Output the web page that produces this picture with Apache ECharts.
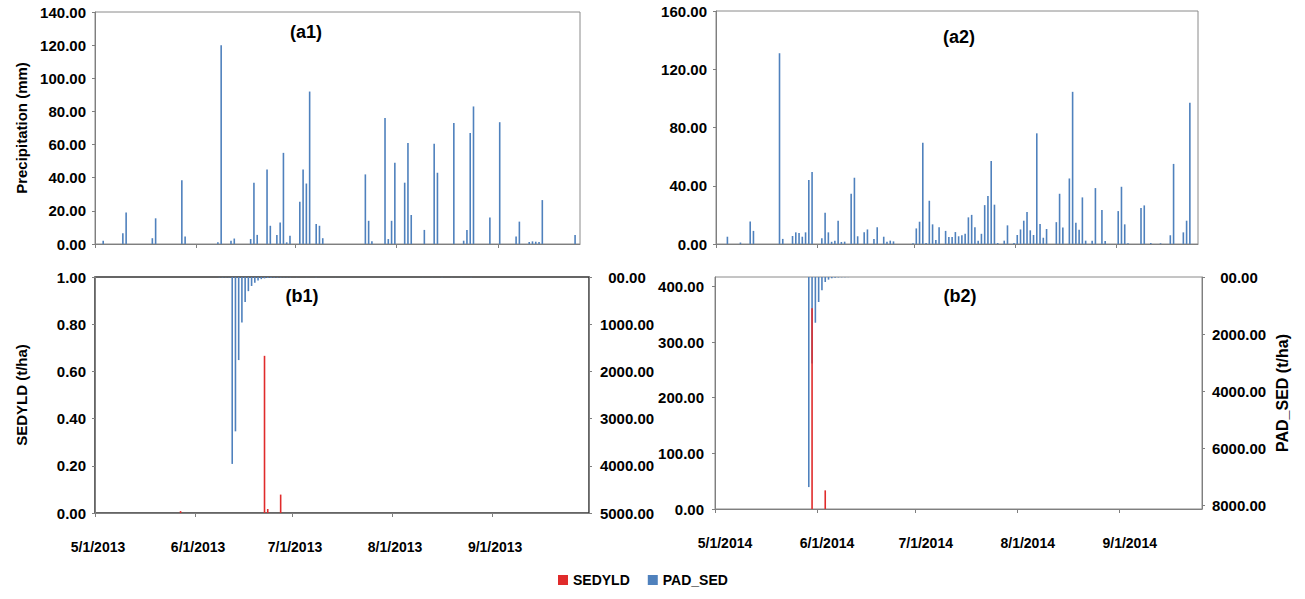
<!DOCTYPE html>
<html>
<head>
<meta charset="utf-8">
<title>Precipitation, SEDYLD and PAD_SED</title>
<script src="https://cdn.jsdelivr.net/npm/echarts@6/dist/echarts.min.js"></script>
<style>
  html, body { margin: 0; padding: 0; background: #fff; }
  #chart { width: 1305px; height: 599px; }
</style>
</head>
<body>
<div id="chart"></div>
<script>
// daily precipitation (mm), 2013
const rain2013Dates = ['2013-05-03', '2013-05-09', '2013-05-10', '2013-05-18', '2013-05-19', '2013-05-27', '2013-05-28',
  '2013-06-07', '2013-06-08', '2013-06-11', '2013-06-12', '2013-06-17', '2013-06-18', '2013-06-19', '2013-06-22',
  '2013-06-23', '2013-06-25', '2013-06-26', '2013-06-27', '2013-06-28', '2013-06-29',
  '2013-07-02', '2013-07-03', '2013-07-04', '2013-07-05', '2013-07-07', '2013-07-08', '2013-07-09', '2013-07-22',
  '2013-07-23', '2013-07-24', '2013-07-28', '2013-07-29', '2013-07-30', '2013-07-31',
  '2013-08-03', '2013-08-04', '2013-08-05', '2013-08-09', '2013-08-12', '2013-08-13', '2013-08-18', '2013-08-21',
  '2013-08-22', '2013-08-23', '2013-08-24', '2013-08-29',
  '2013-09-01', '2013-09-06', '2013-09-07', '2013-09-10', '2013-09-11', '2013-09-12', '2013-09-13', '2013-09-14', '2013-09-24']
const rain2013Values = [2, 6.5, 19, 3.5, 15.5, 38.5, 4.5,
  1, 120, 2, 3.3, 3, 37, 5.5, 45, 11, 5.5, 13, 55, 1, 5,
  25.5, 45, 36.5, 92, 12, 11, 3.5, 42, 14, 1.6, 76, 3, 14, 49,
  37, 61, 17.5, 8.5, 60.5, 43, 73, 2, 8.5, 67, 83, 16,
  73.5, 4.5, 13.5, 1.2, 1.6, 1.4, 1.2, 26.5, 5.5]

// daily precipitation (mm), 2014
const rain2014Dates = ['2014-05-04', '2014-05-08', '2014-05-11', '2014-05-12', '2014-05-20', '2014-05-21', '2014-05-24',
  '2014-05-25', '2014-05-26', '2014-05-27', '2014-05-28', '2014-05-29', '2014-05-30',
  '2014-06-02', '2014-06-03', '2014-06-04', '2014-06-05', '2014-06-06', '2014-06-07', '2014-06-08', '2014-06-09',
  '2014-06-11', '2014-06-12', '2014-06-13', '2014-06-15', '2014-06-16', '2014-06-18', '2014-06-19', '2014-06-21',
  '2014-06-22', '2014-06-23', '2014-06-24', '2014-06-30',
  '2014-07-01', '2014-07-02', '2014-07-03', '2014-07-04', '2014-07-05', '2014-07-06', '2014-07-07', '2014-07-08',
  '2014-07-10', '2014-07-11', '2014-07-12', '2014-07-13', '2014-07-14', '2014-07-15', '2014-07-16', '2014-07-17',
  '2014-07-18', '2014-07-19', '2014-07-20', '2014-07-21', '2014-07-22', '2014-07-23', '2014-07-24', '2014-07-25',
  '2014-07-26', '2014-07-28', '2014-07-29', '2014-07-31',
  '2014-08-01', '2014-08-02', '2014-08-03', '2014-08-04', '2014-08-05', '2014-08-06', '2014-08-07', '2014-08-08',
  '2014-08-09', '2014-08-10', '2014-08-13', '2014-08-14', '2014-08-15', '2014-08-17', '2014-08-18', '2014-08-19',
  '2014-08-20', '2014-08-21', '2014-08-22', '2014-08-24', '2014-08-25', '2014-08-27', '2014-08-28',
  '2014-09-01', '2014-09-02', '2014-09-03', '2014-09-04', '2014-09-08', '2014-09-09', '2014-09-11', '2014-09-14',
  '2014-09-17', '2014-09-18', '2014-09-21', '2014-09-22', '2014-09-23']
const rain2014Values = [5, 1, 15.5, 9, 131, 3.5, 5.5, 8, 7.5, 5, 8, 44, 49.5,
  4, 21.5, 8, 1.5, 2.3, 16, 1.4, 1.6, 34.5, 45.5, 5.3, 8, 10, 3.5, 11.5, 5, 1.5, 2.3, 1.8, 0.5,
  10.7, 15.3, 69.5, 0.7, 29.7, 13.5, 2.7, 11.5, 9, 4.8, 4.8, 8.2, 5.3, 6, 7, 18.3, 20, 11.5, 2.3, 7,
  26.7, 33, 57, 27, 0.7, 2.3, 12.8, 0.7,
  6.2, 10, 16, 22, 9.4, 6.2, 76, 13.7, 4.3, 10.3, 15, 34.5, 11.4, 45, 104.5, 14.6, 9.8, 32, 2.3, 2.3,
  38.4, 23.3, 2,
  22.6, 39.3, 13.5, 0.5, 24.7, 26.5, 0.7, 0.5, 6, 55, 8, 16, 97]

// SEDYLD (t/ha) and PAD_SED (t/ha), 2013
const sedyld2013Dates = ['2013-05-27', '2013-06-22', '2013-06-23', '2013-06-27']
const sedyld2013Values = [0.008, 0.666, 0.017, 0.078]
const padSed2013Dates = ['2013-06-08', '2013-06-09', '2013-06-10', '2013-06-11', '2013-06-12', '2013-06-13',
  '2013-06-14', '2013-06-15', '2013-06-16', '2013-06-17', '2013-06-18', '2013-06-19', '2013-06-20', '2013-06-21',
  '2013-06-22', '2013-06-23', '2013-06-24', '2013-06-25', '2013-06-26', '2013-06-27', '2013-06-28', '2013-06-29',
  '2013-06-30', '2013-07-02', '2013-07-05', '2013-07-08', '2013-07-11', '2013-07-14',
  '2013-08-10', '2013-08-13', '2013-08-16', '2013-08-19', '2013-08-22', '2013-08-25']
const padSed2013Values = [5, 8, 6, 5, 3960, 3270, 1760, 966, 530, 300, 190, 120, 75, 45,
  30, 20, 15, 12, 10, 8, 7, 6, 5, 4, 3, 3, 2, 2,
  3, 3, 3, 3, 3, 3]

// SEDYLD (t/ha) and PAD_SED (t/ha), 2014
const sedyld2014Dates = ['2014-05-30', '2014-06-03']
const sedyld2014Values = [361, 33.5]
const padSed2014Dates = ['2014-05-29', '2014-05-30', '2014-05-31', '2014-06-01', '2014-06-02', '2014-06-03',
  '2014-06-04', '2014-06-05', '2014-06-06', '2014-06-07', '2014-06-08', '2014-06-09', '2014-06-10']
const padSed2014Values = [7350, 3030, 1600, 875, 466, 175, 93, 47, 25, 15, 10, 6, 4]

// month ticks on the date axes
const monthTicks2013 = ['2013-05-01', '2013-06-01', '2013-07-01', '2013-08-01', '2013-09-01']
const monthTicks2014 = ['2014-05-01', '2014-06-01', '2014-07-01', '2014-08-01', '2014-09-01']

const FONT = '"Liberation Sans", Arial, sans-serif'
const BLUE = '#4f81bd'
const RED = '#e02b2b'

function day(s) {
  const p = s.split('-').map(Number)
  return new Date(p[0], p[1] - 1, p[2]).getTime()
}
// Excel draws each daily column in the middle of its day
function pairs(dates, values) {
  return dates.map((d, i) => [day(d) + 12 * 3600 * 1000, values[i]])
}
function mdY(v) {
  const d = new Date(v)
  return (d.getMonth() + 1) + '/' + d.getDate() + '/' + d.getFullYear()
}
function fixed2(v) {
  return v.toFixed(2)
}
function pad2(v) {
  const s = v.toFixed(2)
  return v < 10 ? '0' + s : s
}

// dates are kept as timestamps on a plain value axis so the month ticks can be placed exactly
function dateAxis(grid, from, to, ticks, showLabels, labelPad) {
  return {
    type: 'value',
    gridIndex: grid,
    min: day(from),
    max: day(to),
    splitLine: { show: false },
    axisLine: { lineStyle: { color: '#7f7f7f', width: 1 } },
    axisTick: {
      show: true,
      length: 4,
      lineStyle: { color: '#7f7f7f' },
      customValues: ticks.map(day)
    },
    axisLabel: {
      show: showLabels,
      customValues: ticks.map(day),
      formatter: mdY,
      margin: 27,
      padding: [0, 0, 0, labelPad || 0],
      color: '#000',
      fontFamily: FONT,
      fontWeight: 'bold',
      fontSize: 14
    }
  }
}

function valueAxis(grid, min, max, interval, fmt, extra) {
  return Object.assign({
    type: 'value',
    gridIndex: grid,
    min: min,
    max: max,
    interval: interval,
    splitLine: { show: false },
    axisLine: { show: true, lineStyle: { color: '#7f7f7f' } },
    axisTick: { show: true, length: 3, lineStyle: { color: '#7f7f7f' } },
    axisLabel: {
      formatter: fmt,
      margin: 9,
      color: '#000',
      fontFamily: FONT,
      fontWeight: 'bold',
      fontSize: 15
    },
    nameTextStyle: { color: '#000', fontFamily: FONT, fontWeight: 'bold', fontSize: 15 }
  }, extra)
}

const chart = echarts.init(document.getElementById('chart'), null, { renderer: 'svg' })

chart.setOption({
  backgroundColor: '#fff',
  animation: false,
  legend: {
    data: ['SEDYLD', 'PAD_SED'],
    left: 553,
    top: 568,
    icon: 'rect',
    itemWidth: 10,
    itemHeight: 10,
    itemGap: 18,
    textStyle: { color: '#000', fontFamily: FONT, fontWeight: 'bold', fontSize: 14 }
  },
  grid: [
    { left: 95, top: 12, width: 485, height: 232, show: true, borderColor: '#8a8a8a', borderWidth: 1 },
    { left: 716, top: 11, width: 482, height: 233, show: true, borderColor: '#8a8a8a', borderWidth: 1 },
    { left: 95, top: 277, width: 494, height: 236, show: true, borderColor: '#333', borderWidth: 1.5 },
    { left: 715, top: 277, width: 487, height: 232, show: true, borderColor: '#8a8a8a', borderWidth: 1 }
  ],
  xAxis: [
    dateAxis(0, '2013-05-01', '2013-09-26', monthTicks2013, false),
    dateAxis(1, '2014-05-01', '2014-09-26', monthTicks2014, false),
    dateAxis(2, '2013-05-01', '2013-10-01', monthTicks2013, true, 6),
    dateAxis(3, '2014-05-01', '2014-09-26', monthTicks2014, true, 20)
  ],
  yAxis: [
    valueAxis(0, 0, 140, 20, fixed2, {
      name: 'Precipitation (mm)', nameLocation: 'middle', nameGap: 66, nameRotate: 90
    }),
    valueAxis(1, 0, 160, 40, fixed2, {}),
    valueAxis(2, 0, 1, 0.2, fixed2, {
      name: 'SEDYLD (t/ha)', nameLocation: 'middle', nameGap: 66, nameRotate: 90
    }),
    valueAxis(2, 0, 5000, 1000, pad2, {
      position: 'right', inverse: true,
      axisLabel: { formatter: pad2, margin: 38, align: 'center', color: '#000', fontFamily: FONT, fontWeight: 'bold', fontSize: 15 }
    }),
    valueAxis(3, 0, 417, 100, fixed2, {
      axisLabel: { formatter: fixed2, margin: 11, showMaxLabel: false, color: '#000', fontFamily: FONT, fontWeight: 'bold', fontSize: 15 }
    }),
    valueAxis(3, 0, 8117, 2000, pad2, {
      position: 'right', inverse: true,
      name: 'PAD_SED (t/ha)', nameLocation: 'middle', nameGap: 72, nameRotate: 90,
      nameTextStyle: { color: '#000', fontFamily: FONT, fontWeight: 'bold', fontSize: 16 },
      axisLabel: { formatter: pad2, margin: 37, align: 'center', showMaxLabel: false, color: '#000', fontFamily: FONT, fontWeight: 'bold', fontSize: 15 }
    })
  ],
  graphic: [
    { type: 'text', x: 306, y: 32, style: { text: '(a1)', font: 'bold 18px ' + FONT, textAlign: 'center', textVerticalAlign: 'middle', fill: '#000' } },
    { type: 'text', x: 959, y: 37, style: { text: '(a2)', font: 'bold 18px ' + FONT, textAlign: 'center', textVerticalAlign: 'middle', fill: '#000' } },
    { type: 'text', x: 302, y: 296, style: { text: '(b1)', font: 'bold 18px ' + FONT, textAlign: 'center', textVerticalAlign: 'middle', fill: '#000' } },
    { type: 'text', x: 960, y: 296, style: { text: '(b2)', font: 'bold 18px ' + FONT, textAlign: 'center', textVerticalAlign: 'middle', fill: '#000' } }
  ],
  series: [
    {
      name: 'Precipitation 2013', type: 'bar', xAxisIndex: 0, yAxisIndex: 0,
      barWidth: 1.6, itemStyle: { color: BLUE },
      data: pairs(rain2013Dates, rain2013Values)
    },
    {
      name: 'Precipitation 2014', type: 'bar', xAxisIndex: 1, yAxisIndex: 1,
      barWidth: 1.6, itemStyle: { color: BLUE },
      data: pairs(rain2014Dates, rain2014Values)
    },
    {
      name: 'PAD_SED', type: 'bar', xAxisIndex: 2, yAxisIndex: 3,
      barWidth: 1.6, barGap: '-100%', itemStyle: { color: BLUE },
      data: pairs(padSed2013Dates, padSed2013Values)
    },
    {
      name: 'SEDYLD', type: 'bar', xAxisIndex: 2, yAxisIndex: 2,
      barWidth: 1.6, barGap: '-100%', itemStyle: { color: RED },
      data: pairs(sedyld2013Dates, sedyld2013Values)
    },
    {
      name: 'PAD_SED', type: 'bar', xAxisIndex: 3, yAxisIndex: 5,
      barWidth: 1.6, barGap: '-100%', itemStyle: { color: BLUE },
      data: pairs(padSed2014Dates, padSed2014Values)
    },
    {
      name: 'SEDYLD', type: 'bar', xAxisIndex: 3, yAxisIndex: 4,
      barWidth: 1.6, barGap: '-100%', itemStyle: { color: RED },
      data: pairs(sedyld2014Dates, sedyld2014Values)
    }
  ]
})
</script>
</body>
</html>
